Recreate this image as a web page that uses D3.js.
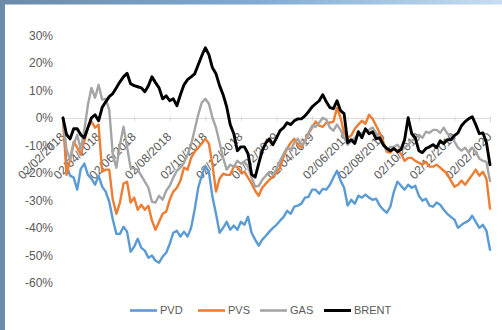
<!DOCTYPE html>
<html><head><meta charset="utf-8">
<script src="https://cdn.jsdelivr.net/npm/d3@7"></script>
<style>body{margin:0;background:#fff}svg{display:block}</style>
</head><body>
<svg id="c" width="502" height="330"></svg>
<script>
const xLabels = ["02/02/2018","02/04/2018","02/06/2018","02/08/2018","02/10/2018","02/12/2018","02/02/2019","02/04/2019","02/06/2019","02/08/2019","02/10/2019","02/12/2019","02/02/2020"];
const yTicks = [30,20,10,0,-10,-20,-30,-40,-50,-60];
const seriesNames = ["PVD","PVS","GAS","BRENT"];
const seriesColors = ["#5B9BD5","#ED7D31","#A5A5A5","#000000"];

const PVD = [0,-17.4,-21.0,-21.7,-26.1,-18.5,-16.6,-20.7,-22.1,-24.3,
-21.0,-25.0,-26.8,-30.5,-37.0,-42.2,-42.2,-39.6,-41.4,-48.7,
-46.9,-44.0,-47.3,-48.3,-50.9,-50.1,-52.0,-52.7,-50.5,-49.1,
-45.8,-41.8,-41.1,-43.2,-41.4,-43.2,-40.0,-33.4,-25.4,-21.0,
-17.4,-19.6,-28.7,-34.9,-41.8,-40.0,-37.8,-40.7,-39.2,-40.7,
-37.8,-38.9,-36.0,-41.8,-44.3,-46.5,-44.3,-42.9,-41.4,-40.0,
-38.9,-37.4,-36.0,-33.8,-34.9,-32.3,-31.9,-31.2,-29.0,-28.7,
-26.1,-26.1,-27.6,-25.8,-26.1,-24.3,-21.7,-19.2,-22.8,-25.4,
-31.9,-29.8,-31.2,-28.3,-29.0,-27.9,-29.0,-29.8,-29.4,-31.9,
-33.4,-34.5,-32.3,-26.8,-23.2,-24.7,-26.1,-24.3,-25.4,-24.7,
-28.3,-30.1,-29.4,-31.9,-32.3,-30.8,-31.6,-33.4,-34.9,-36.0,
-37.0,-40.0,-38.9,-38.1,-37.4,-35.6,-37.8,-40.0,-38.9,-41.1,
-48];
const PVS = [0,-20.7,-15.2,-8.6,-10.8,-13.4,-8.3,-3.5,-1.3,-3.5,
-2.4,-19.6,-18.8,-18.8,-29.8,-34.9,-30.8,-23.9,-23.2,-30.8,
-29.0,-33.4,-31.6,-33.4,-32.0,-37.4,-40.7,-37.8,-34.9,-34.1,
-29.8,-26.8,-25.4,-22.8,-18.1,-18.8,-14.5,-12.3,-10.8,-9.3,
-7.6,-9.3,-17.0,-26.8,-22.1,-20.3,-20.7,-20.7,-17.7,-17.7,
-19.9,-19.6,-21.7,-23.9,-26.5,-28.3,-25.4,-23.9,-22.5,-21.4,
-19.9,-18.1,-14.1,-11.1,-9.0,-7.6,-9.7,-10.8,-8.3,-5.7,
-3.5,-1.3,-2.8,-3.2,-1.7,-1.7,-1.3,3.8,0.1,-5.4,
-7.2,-6.4,-3.9,-2.4,-1.0,-2.1,1.2,-0.3,-2.8,-5.4,
-8.6,-12.3,-12.6,-11.1,-11.9,-13.0,-15.6,-14.5,-14.5,-15.6,
-16.3,-17.0,-15.9,-17.7,-17.7,-17.0,-18.1,-19.2,-20.3,-22.8,
-25.0,-24.3,-22.8,-24.3,-22.5,-20.7,-18.8,-21.0,-19.6,-22.1,
-33];
const GAS = [0,-11.5,-15.2,-9.7,-6.1,-11.5,-4.3,4.8,11.0,7.4,
12.1,6.7,7.0,3.0,-13.4,-18.1,-9.7,-3.2,-10.5,-18.1,
-18.5,-18.8,-21.0,-23.2,-25.4,-30.5,-30.8,-28.3,-29.8,-26.5,
-24.7,-21.7,-19.2,-18.1,-16.3,-13.4,-9.7,-4.3,1.2,5.6,
7.0,5.2,0.1,-3.5,-9.0,-14.5,-18.8,-17.0,-17.7,-15.6,
-16.6,-15.9,-17.7,-21.7,-25.0,-24.7,-22.5,-21.0,-19.6,-20.7,
-18.5,-15.6,-13.0,-10.8,-11.5,-9.0,-7.6,-9.7,-9.0,-5.4,
-2.8,-3.2,-1.7,0.1,-0.6,-3.5,-4.6,-2.4,-4.3,-7.2,
-9.7,-8.3,-7.2,-6.1,-5.4,-4.6,-4.3,-3.5,-5.4,-7.9,
-10.1,-11.5,-10.5,-10.5,-9.7,-11.5,-10.8,-9.7,-8.3,-7.2,
-6.1,-7.2,-5.0,-5.4,-4.3,-4.3,-5.4,-3.5,-5.7,-6.4,
-8.6,-10.8,-11.9,-10.8,-12.6,-10.8,-12.3,-14.8,-15.6,-16.0,
-23];
const BRENT = [0,-6,-7.6,-3.9,-3.9,-6.1,-7.2,-3.5,0.1,1.2,
-1.0,3.8,5.9,7.8,8.9,11.0,13.2,15.0,16.3,12.5,
11.8,11.4,11.0,9.6,11.8,15.0,12.9,11.0,7.0,8.1,
6.3,7.0,4.5,8.5,12.1,14.0,15.0,16.1,19.4,22.7,
25.6,23.1,18.3,16.1,11.8,8.5,4.1,-2.4,-5.7,-11.9,
-10.5,-10.5,-13.0,-20.5,-21.5,-16.6,-11.9,-9.0,-7.6,-9.7,
-7.2,-4.6,-3.5,-1.7,-2.4,-1.0,-0.3,-0.3,0.8,2.3,
4.1,5.2,6.3,8.5,5.9,3.8,3.4,6.3,2.7,1.6,
-9.0,-7.9,-9.3,-5.0,-7.2,-3.9,-5.7,-5.0,-7.6,-7.2,
-9.7,-11.1,-11.9,-11.1,-12.3,-11.5,-7.9,0.1,-5.7,-7.2,
-11.9,-12.6,-11.1,-10.5,-9.7,-10.8,-8.3,-9.3,-7.9,-7.9,
-6.4,-5.4,-2.8,-1.3,-0.3,0.5,-2.4,-5.7,-5.4,-9.0,
-17.0];
const seriesValues = [PVD, PVS, GAS, BRENT];
const labelStep = 10;

const svg = d3.select("#c");
const defs = svg.append("defs");
const grad = defs.append("linearGradient").attr("id","topg").attr("x1","0").attr("x2","1").attr("y1","0").attr("y2","0");
grad.append("stop").attr("offset","0").attr("stop-color","#6c8aa8");
grad.append("stop").attr("offset","0.5").attr("stop-color","#7eaad3");
grad.append("stop").attr("offset","1").attr("stop-color","#c6ddf1");
svg.append("rect").attr("x",0).attr("y",0).attr("width",502).attr("height",330).attr("fill","#fff");
svg.append("rect").attr("x",0).attr("y",0).attr("width",502).attr("height",4.5).attr("fill","url(#topg)");
svg.append("rect").attr("x",0).attr("y",0).attr("width",5).attr("height",330).attr("fill","#6d8cab");

const n = PVD.length;
const x = d3.scaleLinear().domain([0, n-1]).range([63, 490]);
const y = d3.scaleLinear().domain([-60, 30]).range([282.7, 35.7]);
const font = "'Liberation Sans', Arial, sans-serif";
const txtColor = "#595959";

// Y axis labels
const ya = svg.append("g").attr("transform","translate(53,0)")
  .call(d3.axisLeft(y).tickValues(yTicks).tickSize(0).tickPadding(0).tickFormat(d => d + "%"));
ya.select(".domain").remove();
ya.selectAll("text").attr("fill", txtColor).style("font-family", font).style("font-size","12px");

// X axis at 0
const xa = svg.append("g").attr("transform", `translate(0,${y(0)})`)
  .call(d3.axisBottom(x).tickValues(xLabels.map((d,i)=>i*labelStep)).tickSizeOuter(0).tickSize(4)
    .tickFormat((d,i)=>xLabels[i]));
xa.select(".domain").attr("stroke","#d9d9d9").attr("stroke-width",1);
xa.selectAll(".tick line").attr("stroke","#d9d9d9").attr("y1",-2).attr("y2",3);
xa.selectAll(".tick text")
  .attr("fill", txtColor).style("font-family", font).style("font-size","12px")
  .attr("y",0).attr("dy",0).attr("text-anchor","end")
  .attr("transform","translate(2,19.5) rotate(-45)");

// Lines
const line = d3.line().x((d,i)=>x(i)).y(d=>y(d));
seriesValues.forEach((vals, k) => {
  svg.append("path").datum(vals)
    .attr("fill","none").attr("stroke", seriesColors[k])
    .attr("stroke-width", k===3 ? 2.9 : 2.4)
    .attr("stroke-linejoin","round").attr("stroke-linecap","round")
    .attr("d", line);
});

// Legend
const legX = [130, 198, 260, 324];
const lg = svg.append("g");
seriesNames.forEach((name, k) => {
  const g = lg.append("g").attr("transform", `translate(${legX[k]},310.5)`);
  g.append("line").attr("x1",0).attr("x2",27).attr("y1",0).attr("y2",0)
    .attr("stroke", seriesColors[k]).attr("stroke-width", k===3?3:2.6);
  g.append("text").attr("x",30).attr("y",0).attr("dy","0.35em")
    .attr("fill", txtColor).style("font-family", font).style("font-size","11px").text(name);
});
</script>
</body></html>
